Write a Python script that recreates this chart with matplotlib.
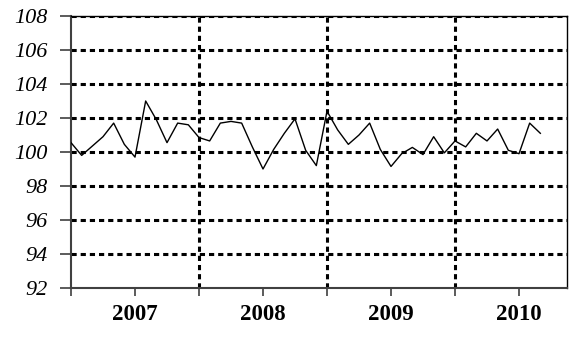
import numpy as np
import matplotlib.pyplot as plt
from matplotlib.ticker import FixedLocator
from matplotlib.font_manager import FontProperties
import matplotlib.transforms as mtransforms

# monthly index, Jan 2007 .. Sep 2010
values = [100.55, 99.8, 100.35, 100.9, 101.7, 100.45, 99.7, 103.0, 101.9, 100.55,
          101.7, 101.6, 100.85, 100.65, 101.7, 101.8, 101.7, 100.3, 99.0, 100.15,
          101.1, 101.95, 100.1, 99.2, 102.4, 101.3, 100.45, 101.0, 101.7, 100.15,
          99.15, 99.9, 100.27, 99.85, 100.9, 99.95, 100.65, 100.3, 101.1, 100.65,
          101.35, 100.1, 99.9, 101.7, 101.1]
years = ['2007', '2008', '2009', '2010']
year_mid = [6, 18, 30, 42]
year_breaks = [12, 24, 36]
yticks = list(range(92, 109, 2))

plt.rcParams['font.family'] = ['Liberation Serif', 'DejaVu Serif']
ital = FontProperties(family='Liberation Serif', style='italic', size=16)
bold = FontProperties(family='Liberation Serif', weight='bold', size=16.5)

fig = plt.figure(figsize=(5.71, 3.38), dpi=100)
ax = fig.add_axes([71/571, 1-288/338, (567-71)/571, (288-16)/338])

x = np.arange(len(values))
dots = (0, (1.7, 1.3))
for yv in yticks[1:]:
    ax.axhline(yv, color='black', lw=2.2, ls=dots, zorder=1)
for xv in year_breaks:
    ax.axvline(xv, color='black', lw=2.2, ls=dots, zorder=1)
ax.plot(x, values, color='black', lw=1.0, zorder=3)

ax.set_xlim(0, 46.5)
ax.set_ylim(92, 108)
ax.set_yticks(yticks)
ax.set_yticklabels([''] * len(yticks))
ax.tick_params(axis='y', direction='out', length=8, width=1.2, color='#404040')
ytrans = mtransforms.blended_transform_factory(ax.transAxes, ax.transData)
for yv in yticks:
    ax.text(-0.048, yv, str(yv), transform=ytrans, ha='right', va='center_baseline',
            fontproperties=ital)

ax.xaxis.set_major_locator(FixedLocator(range(0, 46, 6)))
ax.set_xticklabels([''] * 8)
ax.tick_params(axis='x', direction='out', length=6, width=1.2, color='#404040')
xtrans = mtransforms.blended_transform_factory(ax.transData, ax.transAxes)
for xm, lab in zip(year_mid, years):
    ax.text(xm, -0.088, lab, transform=xtrans, ha='center', va='center_baseline',
            fontproperties=bold)

for s in ['left', 'bottom']:
    ax.spines[s].set_color('#404040')
    ax.spines[s].set_linewidth(1.5)
for s in ['top', 'right']:
    ax.spines[s].set_color('black')
    ax.spines[s].set_linewidth(1.0)

fig.savefig('out.png', dpi=100)
